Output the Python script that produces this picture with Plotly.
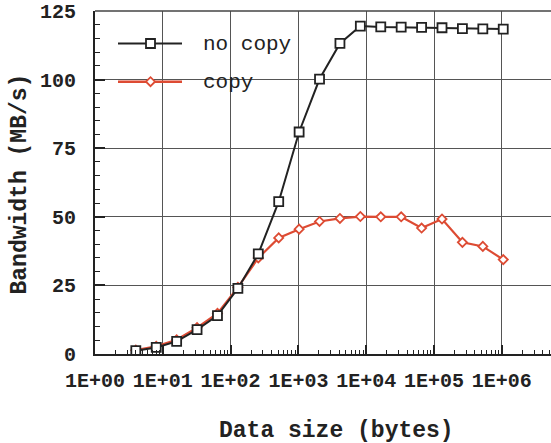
import plotly.graph_objects as go

# ---- data ----
sizes = [2 ** k for k in range(2, 21)]
no_copy = [1.2, 2.4, 4.6, 8.9, 14.0, 23.9, 36.5, 55.5, 80.9, 100.2, 113.2,
           119.5, 119.2, 119.1, 119.0, 118.9, 118.6, 118.5, 118.4]
copy = [1.4, 2.8, 5.2, 9.6, 14.8, 24.3, 35.0, 42.3, 45.5, 48.3, 49.4,
        50.1, 50.0, 50.0, 45.9, 49.2, 40.7, 39.2, 34.4]
x_tick_vals = [1, 10, 100, 1000, 10000, 100000, 1000000]
x_tick_text = ["1E+00", "1E+01", "1E+02", "1E+03", "1E+04", "1E+05", "1E+06"]
y_tick_vals = [0, 25, 50, 75, 100, 125]
series_names = ["no copy", "copy"]

BLACK = "#222222"
RED = "#dd4b33"
FONT = "Liberation Mono"

# plot-area geometry in pixels
L, R, T, B = 95, 551, 11, 354
W, H = R - L, B - T


def px(x):
    return (x - L) / W


def py(y):
    return (B - y) / H


fig = go.Figure()
fig.add_trace(go.Scatter(
    x=sizes, y=copy, name=series_names[1], mode="lines+markers",
    line=dict(color=RED, width=2.2),
    marker=dict(symbol="diamond", size=7, color="white",
                line=dict(color=RED, width=1.8)),
    showlegend=False))
fig.add_trace(go.Scatter(
    x=sizes, y=no_copy, name=series_names[0], mode="lines+markers",
    line=dict(color=BLACK, width=2),
    marker=dict(symbol="square", size=9, color="white",
                line=dict(color=BLACK, width=1.8)),
    showlegend=False))

minor_x = [m * 10 ** k for k in range(0, 7) for m in range(2, 10)]

tickfont = dict(family=FONT, size=20, color=BLACK, weight="bold")

fig.update_xaxes(
    type="log", range=[0, 6.725],
    tickmode="array", tickvals=x_tick_vals, ticktext=x_tick_text,
    ticks="inside", ticklen=9, tickwidth=1.5, tickcolor=BLACK,
    showline=True, linecolor=BLACK, linewidth=2,
    showgrid=True, gridcolor="#555555", gridwidth=1,
    zeroline=False, tickfont=tickfont, ticklabelstandoff=7,
    minor=dict(tickmode="array", tickvals=minor_x, ticks="inside",
               ticklen=4, tickwidth=1.2, tickcolor=BLACK, showgrid=False),
)
fig.update_yaxes(
    range=[0, 125], tickmode="array", tickvals=y_tick_vals,
    ticks="inside", ticklen=10, tickwidth=1.5, tickcolor=BLACK,
    showline=True, linecolor=BLACK, linewidth=2,
    showgrid=True, gridcolor="#555555", gridwidth=1,
    zeroline=False, tickfont=tickfont, ticklabelstandoff=13,
    minor=dict(dtick=5, ticks="inside", ticklen=5, tickwidth=1.2,
               tickcolor=BLACK, showgrid=False),
)

shapes = [
    # white area behind the legend (hides grid lines)
    dict(type="rect", xref="paper", yref="paper", x0=px(96), x1=px(304),
         y0=py(105), y1=py(12), fillcolor="white", line=dict(width=0),
         layer="between"),
    # top frame line
    dict(type="line", xref="paper", yref="paper", x0=0, x1=1, y0=1, y1=1,
         line=dict(color="#444444", width=1.5), layer="above"),
    # legend samples
    dict(type="line", xref="paper", yref="paper", x0=px(118), x1=px(182),
         y0=py(43.5), y1=py(43.5), line=dict(color=BLACK, width=2)),
    dict(type="line", xref="paper", yref="paper", x0=px(118), x1=px(182),
         y0=py(81.7), y1=py(81.7), line=dict(color=RED, width=2.4)),
    dict(type="rect", xref="paper", yref="paper", xsizemode="pixel",
         ysizemode="pixel", xanchor=px(150.5), yanchor=py(43.5),
         x0=-4.5, x1=4.5, y0=-4.5, y1=4.5, fillcolor="white",
         line=dict(color=BLACK, width=1.8)),
    dict(type="path", xref="paper", yref="paper", xsizemode="pixel",
         ysizemode="pixel", xanchor=px(150.5), yanchor=py(81.7),
         path="M -4.5 0 L 0 4.5 L 4.5 0 L 0 -4.5 Z", fillcolor="white",
         line=dict(color=RED, width=1.8)),
]

annotations = [
    dict(text=series_names[0], xref="paper", yref="paper", x=px(201),
         y=py(44.5), xanchor="left", yanchor="middle", showarrow=False,
         font=dict(family=FONT, size=21, color=BLACK)),
    dict(text=series_names[1], xref="paper", yref="paper", x=px(201),
         y=py(82.5), xanchor="left", yanchor="middle", showarrow=False,
         font=dict(family=FONT, size=21, color=BLACK)),
    dict(text="Data size (bytes)", xref="paper", yref="paper", x=px(336),
         y=py(431), xanchor="center", yanchor="middle", showarrow=False,
         font=dict(family=FONT, size=23, color=BLACK, weight="bold")),
    dict(text="Bandwidth (MB/s)", xref="paper", yref="paper", x=px(19.5),
         y=py(184), xanchor="center", yanchor="middle", showarrow=False,
         textangle=-90,
         font=dict(family=FONT, size=23, color=BLACK, weight="bold")),
]

fig.update_layout(
    width=551, height=443,
    margin=dict(l=L, r=551 - R, t=T, b=443 - B, pad=0),
    plot_bgcolor="white", paper_bgcolor="white",
    showlegend=False, shapes=shapes, annotations=annotations,
)

fig.write_html("out.html")
